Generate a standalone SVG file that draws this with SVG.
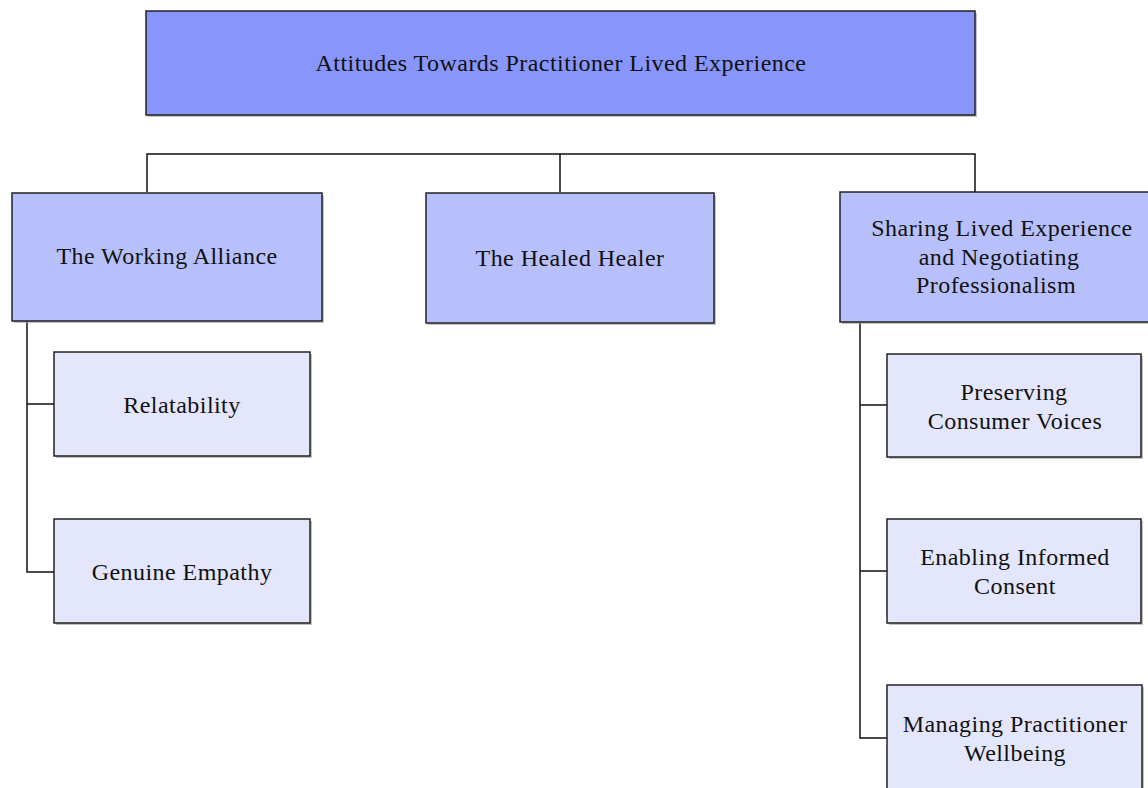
<svg xmlns="http://www.w3.org/2000/svg" width="1148" height="788" viewBox="0 0 1148 788">
<style>
.b{stroke:#222;stroke-width:1.5}
.s{fill:#999;opacity:0.6}
.l0{fill:#8896FB}
.l1{fill:#B8C0FC}
.l2{fill:#E4E6FB}
text{font-family:"Liberation Serif","Times New Roman",serif;font-size:24px;letter-spacing:0.45px;fill:#111;text-anchor:middle}
.c{fill:none;stroke:#111;stroke-width:1.5}
</style>
<rect width="1148" height="788" fill="#fff"/>
<g id="connectors">
<path class="c" d="M147,192 V154 H975 V192 M560,154 V192"/>
<path class="c" d="M27,321 V572 H54 M27,404 H54"/>
<path class="c" d="M860,322 V738 H887 M860,405 H887 M860,571 H887"/>
</g>
<g id="root">
<rect class="s" x="148" y="13" width="829" height="104"/>
<rect class="b l0" x="146" y="11" width="829" height="104"/>
<text x="561" y="71">Attitudes Towards Practitioner Lived Experience</text>
</g>
<g id="working-alliance">
<rect class="s" x="14" y="195" width="310" height="128"/>
<rect class="b l1" x="12" y="193" width="310" height="128"/>
<text x="167" y="264">The Working Alliance</text>
</g>
<g id="healed-healer">
<rect class="s" x="428" y="195" width="288" height="130"/>
<rect class="b l1" x="426" y="193" width="288" height="130"/>
<text x="570" y="266">The Healed Healer</text>
</g>
<g id="sharing">
<rect class="s" x="842" y="194" width="310" height="130"/>
<rect class="b l1" x="840" y="192" width="310" height="130"/>
<text x="1002" y="236">Sharing Lived Experience</text>
<text x="999" y="265">and Negotiating</text>
<text x="996" y="293">Professionalism</text>
</g>
<g id="relatability">
<rect class="s" x="56" y="354" width="256" height="104"/>
<rect class="b l2" x="54" y="352" width="256" height="104"/>
<text x="182" y="413">Relatability</text>
</g>
<g id="genuine-empathy">
<rect class="s" x="56" y="521" width="256" height="104"/>
<rect class="b l2" x="54" y="519" width="256" height="104"/>
<text x="182" y="580">Genuine Empathy</text>
</g>
<g id="preserving">
<rect class="s" x="889" y="356" width="254" height="103"/>
<rect class="b l2" x="887" y="354" width="254" height="103"/>
<text x="1014" y="400">Preserving</text>
<text x="1015" y="429">Consumer Voices</text>
</g>
<g id="enabling">
<rect class="s" x="889" y="521" width="254" height="104"/>
<rect class="b l2" x="887" y="519" width="254" height="104"/>
<text x="1015" y="565">Enabling Informed</text>
<text x="1015" y="594">Consent</text>
</g>
<g id="managing">
<rect class="s" x="889" y="687" width="255" height="110"/>
<rect class="b l2" x="887" y="685" width="255" height="110"/>
<text x="1015" y="732">Managing Practitioner</text>
<text x="1015" y="761">Wellbeing</text>
</g>
</svg>
